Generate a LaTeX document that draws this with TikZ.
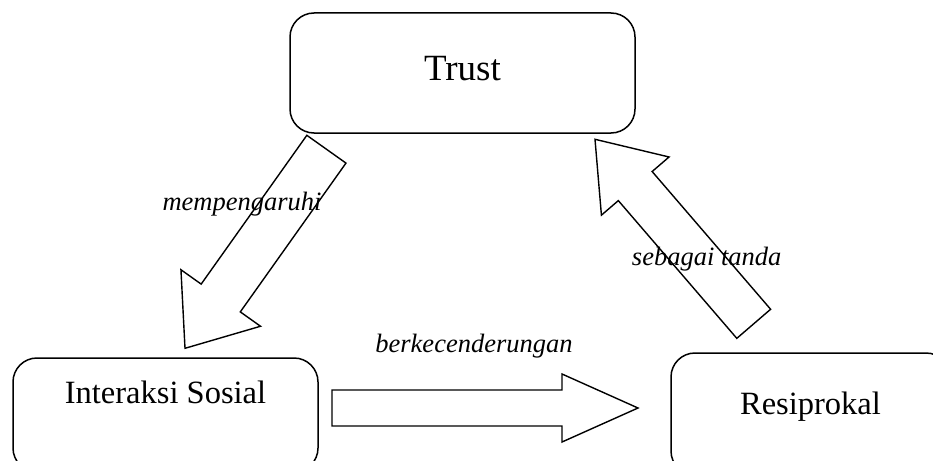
\documentclass[tikz,border=0pt]{standalone}
\usepackage{fontspec}
\setmainfont{Liberation Serif}
\usetikzlibrary{calc}

% outline block arrow: tail, tip, shaft half width, head half width, head length
\newcommand{\blockarrow}[5]{%
  \draw[blockline] let \p1=(#1), \p2=(#2),
    \n1={atan2(\y2-\y1,\x2-\x1)}, \n2={veclen(\x2-\x1,\y2-\y1)} in
    [shift={(\p1)}, rotate=\n1]
    (0,-#3) -- (\n2-#5,-#3) -- (\n2-#5,-#4) -- (\n2,0)
    -- (\n2-#5,#4) -- (\n2-#5,#3) -- (0,#3) -- cycle;}

\begin{document}
\begin{tikzpicture}[
  x=1pt, y=-1pt,
  box/.style={draw, rounded corners=24pt, line width=1.5pt, inner sep=0pt},
  blockline/.style={line width=1.4pt, line join=miter},
  tag/.style={font=\fontsize{26.5}{30}\selectfont\itshape, anchor=base, inner sep=0pt}
]
\clip (0,0) rectangle (933,460);

% boxes
\node[box, minimum width=345pt, minimum height=120pt, text height=67pt, text depth=53pt,
  font=\fontsize{37}{42}\selectfont] (trust) at (462.5,73) {Trust};
\node[box, minimum width=305pt, minimum height=114pt, text height=45pt, text depth=69pt,
  font=\fontsize{32.5}{38}\selectfont] (sosial) at (165.5,415) {Interaksi Sosial};
\node[box, minimum width=279pt, minimum height=122pt, text height=61pt, text depth=61pt,
  font=\fontsize{32.5}{38}\selectfont] (resiprokal) at (810.5,414) {Resiprokal};

% arrow ends
\coordinate (pengaruhA) at (326.4,149.2);
\coordinate (pengaruhB) at (185,348.3);
\coordinate (cenderungA) at (332,408);
\coordinate (cenderungB) at (638,408);
\coordinate (tandaA) at (753.7,323.8);
\coordinate (tandaB) at (595,139.3);

\blockarrow{pengaruhA}{pengaruhB}{24}{48.8}{61.7}
\blockarrow{cenderungA}{cenderungB}{18}{34}{76}
\blockarrow{tandaA}{tandaB}{22.3}{44.6}{61.7}

% labels
\node[tag] (pengaruh) at (242,210) {mempengaruhi};
\node[tag] (cenderung) at (474,352) {berkecenderungan};
\node[tag] (tanda) at (706.7,265) {sebagai tanda};
\end{tikzpicture}
\end{document}
